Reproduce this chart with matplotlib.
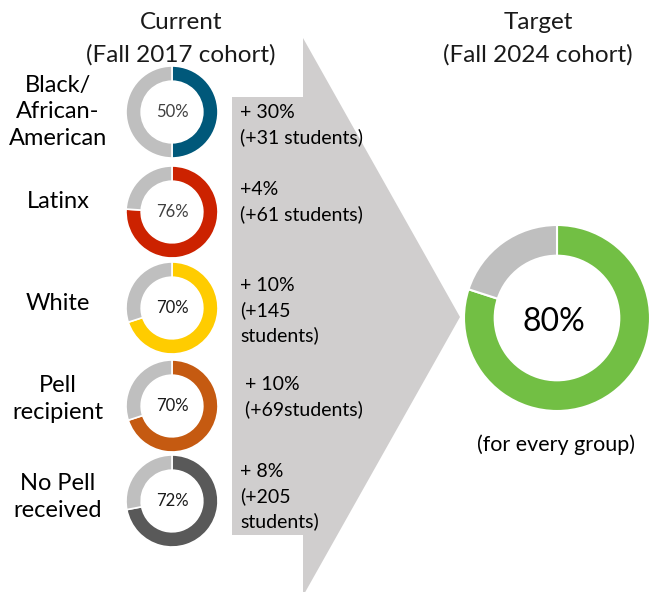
import matplotlib.pyplot as plt
from matplotlib.patches import Polygon

plt.rcParams['font.family'] = ['Lato', 'DejaVu Sans']

# Data
groups = ["Black/\nAfrican-\nAmerican", "Latinx", "White", "Pell\nrecipient", "No Pell\nreceived"]
current_rate = [50, 76, 70, 70, 72]
group_colors = ['#00587A', '#CC2200', '#FFCC00', '#C55A11', '#595959']
pct_colors = ['#404040', '#404040', '#1a1a1a', '#1a1a1a', '#1a1a1a']
gains = ["+ 30%\n(+31 students)", "+4%\n(+61 students)", "+ 10%\n(+145\nstudents)",
         " + 10%\n (+69students)", "+ 8%\n(+205\nstudents)"]
target_rate = 80
rest_color = '#BFBFBF'

W, H = 649, 592
fig = plt.figure(figsize=(W / 100, H / 100), dpi=100)
ax = fig.add_axes([0, 0, 1, 1])


def py(y):
    # pixel row (from top) -> data y
    return H - y


# big gray arrow
arrow = [(232, 97), (303, 97), (303, 38), (460, 317), (303, 596), (303, 535), (232, 535)]
ax.add_patch(Polygon([(x, py(y)) for x, y in arrow], closed=True,
                     facecolor='#D0CECE', edgecolor='none', zorder=0))

# small donuts (current)
cx = 172
cys = [112, 212, 308, 406, 501]
label_y = [112, 202, 303, 399, 497]
gain_y = [125, 202, 311, 397, 497]
r_out = 46
for i, (val, col) in enumerate(zip(current_rate, group_colors)):
    cy = py(cys[i])
    ax.pie([val, 100 - val], colors=[col, rest_color], startangle=90, counterclock=False,
           center=(cx, cy), radius=r_out,
           wedgeprops=dict(width=r_out * 0.33, edgecolor='white', linewidth=1.2))
    ax.text(cx, cy, f"{val}%", ha='center', va='center', fontsize=12, color=pct_colors[i])
    ax.text(58, py(label_y[i]), groups[i], ha='center', va='center', fontsize=17,
            linespacing=1.33, color='black')
    ax.text(240, py(gain_y[i]), gains[i], ha='left', va='center', fontsize=14,
            linespacing=1.48, color='black')

# target donut
tx, ty, tr = 557, py(318), 93
ax.pie([target_rate, 100 - target_rate], colors=['#72BF44', rest_color], startangle=90,
       counterclock=False, center=(tx, ty), radius=tr,
       wedgeprops=dict(width=tr * 0.33, edgecolor='white', linewidth=1.5))
ax.text(tx - 3, ty - 4, f"{target_rate}%", ha='center', va='center', fontsize=23, color='black')
ax.text(556, py(445), "(for every group)", ha='center', va='center', fontsize=15.5, color='black')

# headers
ax.text(181, py(39), "Current\n(Fall 2017 cohort)", ha='center', va='center',
        fontsize=17.5, linespacing=1.6, color='#1a1a1a')
ax.text(538, py(39), "Target\n(Fall 2024 cohort)", ha='center', va='center',
        fontsize=17.5, linespacing=1.6, color='#1a1a1a')

ax.set_xlim(0, W)
ax.set_ylim(0, H)
ax.set_aspect('equal')
ax.axis('off')

fig.savefig("out.png", dpi=100)
